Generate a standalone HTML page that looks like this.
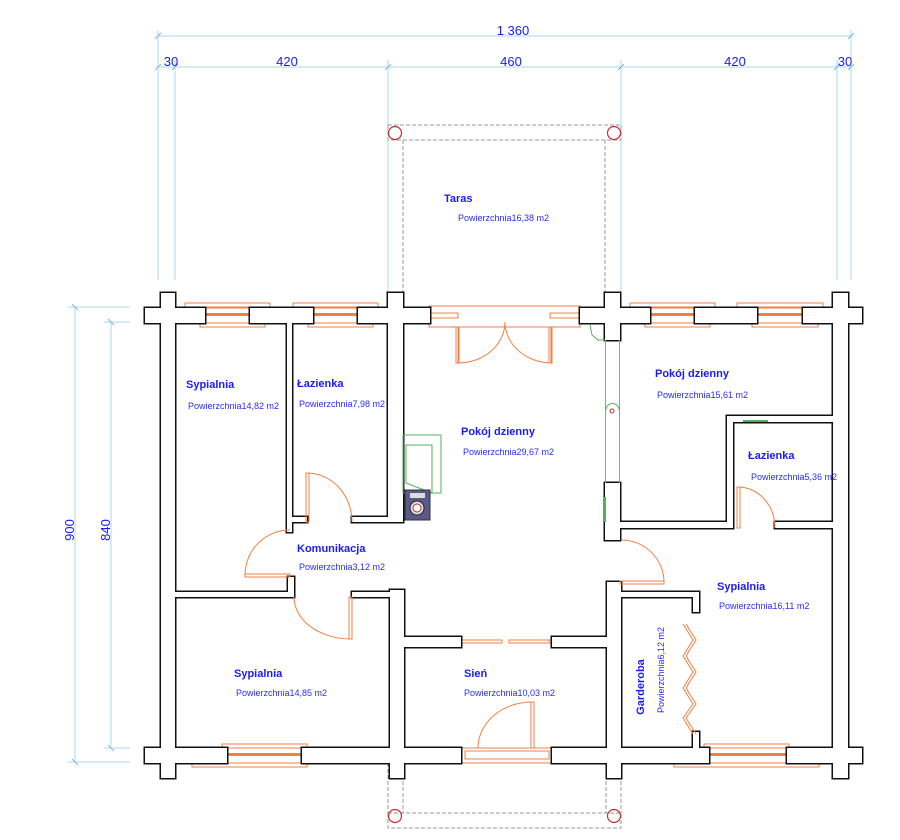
<!DOCTYPE html>
<html><head><meta charset="utf-8"><style>
html,body{margin:0;padding:0;background:#fff;}
svg{display:block;}
.n{font-family:"Liberation Sans",sans-serif;font-weight:bold;font-size:11px;fill:#1a1aff;}
.a{font-family:"Liberation Sans",sans-serif;font-size:9px;fill:#2a2aff;}
.d{font-family:"Liberation Sans",sans-serif;font-size:13px;fill:#1a1aff;}
</style></head><body>
<svg width="900" height="840" viewBox="0 0 900 840" xmlns="http://www.w3.org/2000/svg">
<rect width="900" height="840" fill="#fff"/>
<!-- dimension lines -->
<g stroke="#a8d8f4" stroke-width="1" fill="none">
<line x1="158" y1="36" x2="851" y2="36"/>
<line x1="158" y1="67" x2="851" y2="67"/>
<line x1="158" y1="30" x2="158" y2="280"/>
<line x1="175" y1="60" x2="175" y2="280"/>
<line x1="837" y1="60" x2="837" y2="280"/>
<line x1="851" y1="30" x2="851" y2="280"/>
<line x1="388" y1="60" x2="388" y2="308"/>
<line x1="621" y1="60" x2="621" y2="308"/>
<line x1="75" y1="307" x2="75" y2="762"/>
<line x1="68" y1="307" x2="130" y2="307"/>
<line x1="68" y1="762" x2="130" y2="762"/>
<line x1="111" y1="322" x2="111" y2="748"/>
<line x1="104" y1="322" x2="130" y2="322"/>
<line x1="104" y1="748" x2="130" y2="748"/>
</g>
<g stroke="#7ab8e0" stroke-width="1">
<line x1="155" y1="39" x2="161" y2="33"/><line x1="848" y1="39" x2="854" y2="33"/>
<line x1="155" y1="70" x2="161" y2="64"/><line x1="172" y1="70" x2="178" y2="64"/>
<line x1="385" y1="70" x2="391" y2="64"/><line x1="618" y1="70" x2="624" y2="64"/>
<line x1="834" y1="70" x2="840" y2="64"/><line x1="848" y1="70" x2="854" y2="64"/>
<line x1="72" y1="304" x2="78" y2="310"/><line x1="72" y1="759" x2="78" y2="765"/>
<line x1="108" y1="319" x2="114" y2="325"/><line x1="108" y1="745" x2="114" y2="751"/>
</g>
<text class="d" x="513" y="35" text-anchor="middle">1 360</text>
<text class="d" x="171" y="66" text-anchor="middle">30</text>
<text class="d" x="287" y="66" text-anchor="middle">420</text>
<text class="d" x="511" y="66" text-anchor="middle">460</text>
<text class="d" x="735" y="66" text-anchor="middle">420</text>
<text class="d" x="845" y="66" text-anchor="middle">30</text>
<text class="d" x="74" y="530" text-anchor="middle" transform="rotate(-90 74 530)">900</text>
<text class="d" x="110" y="530" text-anchor="middle" transform="rotate(-90 110 530)">840</text>

<!-- terraces -->
<g stroke="#999" stroke-width="1" fill="none" stroke-dasharray="4,2">
<rect x="388" y="125" width="233" height="15"/>
<line x1="403" y1="140" x2="403" y2="308"/>
<line x1="605" y1="140" x2="605" y2="308"/>
<rect x="388" y="813" width="233" height="15"/>
<line x1="403" y1="763" x2="403" y2="813"/>
<line x1="606" y1="763" x2="606" y2="813"/>
<line x1="388" y1="763" x2="388" y2="813"/>
<line x1="621" y1="763" x2="621" y2="813"/>
</g>
<g stroke="#c03030" stroke-width="1.2" fill="none">
<circle cx="395" cy="133" r="6.5"/><circle cx="614" cy="133" r="6.5"/>
<circle cx="395" cy="816" r="6.5"/><circle cx="614" cy="816" r="6.5"/>
</g>

<!-- windows -->
<g stroke="#f08040" stroke-width="1" fill="#fff">
<rect x="185" y="303" width="85" height="4"/><rect x="205" y="308" width="45" height="15"/><rect x="200" y="323" width="65" height="4"/>
<rect x="293" y="303" width="85" height="4"/><rect x="313" y="308" width="45" height="15"/><rect x="308" y="323" width="65" height="4"/>
<rect x="630" y="303" width="85" height="4"/><rect x="650" y="308" width="45" height="15"/><rect x="645" y="323" width="65" height="4"/>
<rect x="737" y="303" width="86" height="4"/><rect x="757" y="308" width="46" height="15"/><rect x="752" y="323" width="66" height="4"/>
<rect x="222" y="744" width="85" height="4"/><rect x="227" y="748" width="75" height="15"/><rect x="192" y="763" width="115" height="4"/>
<rect x="704" y="744" width="85" height="4"/><rect x="709" y="748" width="78" height="15"/><rect x="674" y="763" width="145" height="4"/>
<rect x="429" y="306" width="151" height="21"/>
<rect x="430" y="313" width="28" height="5"/><rect x="550" y="313" width="30" height="5"/>
<rect x="461" y="748" width="91" height="15"/>
<rect x="465" y="751" width="84" height="8"/>
<rect x="413" y="640" width="48" height="3"/><rect x="462" y="640" width="40" height="3"/>
<rect x="509" y="640" width="40" height="3"/><rect x="549" y="640" width="48" height="3"/>
</g>
<g fill="#f08040">
<rect x="205" y="313" width="45" height="3"/><rect x="313" y="313" width="45" height="3"/>
<rect x="650" y="313" width="45" height="3"/><rect x="757" y="313" width="46" height="3"/>
<rect x="227" y="753" width="75" height="3"/><rect x="709" y="753" width="78" height="3"/>
</g>

<!-- walls: stroke then fill trick -->
<g id="w" stroke="#111" stroke-width="3" fill="#111">
<rect x="145" y="308" width="60" height="15"/><rect x="161" y="293" width="14" height="485"/>
<rect x="250" y="308" width="63" height="15"/><rect x="358" y="308" width="72" height="15"/>
<rect x="388" y="293" width="15" height="30"/>
<rect x="580" y="308" width="70" height="15"/><rect x="605" y="293" width="15" height="47"/>
<rect x="695" y="308" width="62" height="15"/><rect x="803" y="308" width="59" height="15"/>
<rect x="833" y="293" width="15" height="485"/>
<rect x="145" y="748" width="82" height="15"/>
<rect x="302" y="748" width="159" height="15"/><rect x="390" y="748" width="14" height="30"/>
<rect x="552" y="748" width="157" height="15"/><rect x="607" y="748" width="14" height="30"/>
<rect x="787" y="748" width="75" height="15"/>
<rect x="287" y="322" width="5" height="210"/><rect x="292" y="517" width="15" height="5"/>
<rect x="352" y="517" width="36" height="5"/><rect x="388" y="322" width="15" height="200"/>
<rect x="288" y="577" width="6" height="20"/><rect x="175" y="592" width="119" height="5"/>
<rect x="352" y="592" width="38" height="5"/><rect x="390" y="590" width="14" height="158"/>
<rect x="404" y="637" width="57" height="10"/><rect x="552" y="637" width="55" height="10"/>
<rect x="607" y="582" width="14" height="166"/>
<rect x="621" y="592" width="78" height="5"/><rect x="693" y="592" width="6" height="20"/>
<rect x="693" y="732" width="6" height="16"/>
<rect x="605" y="483" width="15" height="57"/>
<rect x="620" y="522" width="113" height="6"/><rect x="727" y="416" width="6" height="112"/>
<rect x="727" y="416" width="106" height="6"/><rect x="775" y="522" width="58" height="6"/>
</g>
<g fill="#fff">
<rect x="145" y="308" width="60" height="15"/><rect x="161" y="293" width="14" height="485"/>
<rect x="250" y="308" width="63" height="15"/><rect x="358" y="308" width="72" height="15"/>
<rect x="388" y="293" width="15" height="30"/>
<rect x="580" y="308" width="70" height="15"/><rect x="605" y="293" width="15" height="47"/>
<rect x="695" y="308" width="62" height="15"/><rect x="803" y="308" width="59" height="15"/>
<rect x="833" y="293" width="15" height="485"/>
<rect x="145" y="748" width="82" height="15"/>
<rect x="302" y="748" width="159" height="15"/><rect x="390" y="748" width="14" height="30"/>
<rect x="552" y="748" width="157" height="15"/><rect x="607" y="748" width="14" height="30"/>
<rect x="787" y="748" width="75" height="15"/>
<rect x="287" y="322" width="5" height="210"/><rect x="292" y="517" width="15" height="5"/>
<rect x="352" y="517" width="36" height="5"/><rect x="388" y="322" width="15" height="200"/>
<rect x="288" y="577" width="6" height="20"/><rect x="175" y="592" width="119" height="5"/>
<rect x="352" y="592" width="38" height="5"/><rect x="390" y="590" width="14" height="158"/>
<rect x="404" y="637" width="57" height="10"/><rect x="552" y="637" width="55" height="10"/>
<rect x="607" y="582" width="14" height="166"/>
<rect x="621" y="592" width="78" height="5"/><rect x="693" y="592" width="6" height="20"/>
<rect x="693" y="732" width="6" height="16"/>
<rect x="605" y="483" width="15" height="57"/>
<rect x="620" y="522" width="113" height="6"/><rect x="727" y="416" width="6" height="112"/>
<rect x="727" y="416" width="106" height="6"/><rect x="775" y="522" width="58" height="6"/>
</g>

<!-- doors -->
<g stroke="#f08040" stroke-width="1" fill="none">
<path d="M458 327 V363 M458 363 A47 41 0 0 0 505 322"/>
<rect x="456" y="327" width="3" height="36"/>
<path d="M551 327 V363 M551 363 A47 41 0 0 1 505 322"/>
<rect x="549" y="327" width="3" height="36"/>
<rect x="306" y="473" width="3" height="49"/>
<path d="M307 473 A45 49 0 0 1 352 522"/>
<rect x="245" y="574" width="45" height="3"/>
<path d="M245 575 A45 45 0 0 1 290 530"/>
<rect x="349" y="597" width="3" height="42"/>
<path d="M294 597 A57 42 0 0 0 351 639"/>
<rect x="620" y="581" width="44" height="3"/>
<path d="M664 582 A43 42 0 0 0 621 540"/>
<rect x="737" y="487" width="3" height="41"/>
<path d="M738 487 A37 41 0 0 1 775 528"/>
<rect x="531" y="702" width="3" height="46"/>
<path d="M532 702 A54 46 0 0 0 478 748"/>
<line x1="605.5" y1="340" x2="605.5" y2="483"/>
<line x1="619.5" y1="340" x2="619.5" y2="483"/>
<path d="M683 624 L693 640 L683 656 L693 672 L683 688 L693 704 L683 718 L693 734"/>
<path d="M686 624 L696 640 L686 656 L696 672 L686 688 L696 704 L686 718 L696 734"/>
</g>
<g stroke="#50b060" stroke-width="1" fill="none">
<rect x="403" y="435" width="38" height="58"/>
<path d="M406 445 H432 V493 L406 483 Z"/>
<line x1="743" y1="421" x2="768" y2="421" stroke-width="2"/>
<line x1="605" y1="497" x2="605" y2="522" stroke-width="2"/>
<path d="M590 325 L592 335 L598 340 L605 340"/>
<path d="M606 410 A6 6 0 0 1 619 410"/>
</g>
<circle cx="612" cy="411" r="2" fill="none" stroke="#c03030"/>
<rect x="405" y="490" width="25" height="30" fill="#5a5a8a" stroke="#333"/>
<rect x="410" y="493" width="15" height="5" fill="#ddd"/>
<circle cx="417" cy="508" r="7" fill="#ddd" stroke="#222"/>
<circle cx="417" cy="508" r="4" fill="#fff" stroke="#c03030"/>

<!-- labels -->
<text class="n" x="444" y="202">Taras</text><text class="a" x="458" y="221">Powierzchnia16,38 m2</text>
<text class="n" x="186" y="388">Sypialnia</text><text class="a" x="188" y="409">Powierzchnia14,82 m2</text>
<text class="n" x="297" y="387">Łazienka</text><text class="a" x="299" y="407">Powierzchnia7,98 m2</text>
<text class="n" x="461" y="435">Pokój dzienny</text><text class="a" x="463" y="455">Powierzchnia29,67 m2</text>
<text class="n" x="655" y="377">Pokój dzienny</text><text class="a" x="657" y="398">Powierzchnia15,61 m2</text>
<text class="n" x="748" y="459">Łazienka</text><text class="a" x="751" y="480">Powierzchnia5,36 m2</text>
<text class="n" x="297" y="552">Komunikacja</text><text class="a" x="299" y="570">Powierzchnia3,12 m2</text>
<text class="n" x="717" y="590">Sypialnia</text><text class="a" x="719" y="609">Powierzchnia16,11 m2</text>
<text class="n" x="234" y="677">Sypialnia</text><text class="a" x="236" y="696">Powierzchnia14,85 m2</text>
<text class="n" x="464" y="677">Sień</text><text class="a" x="464" y="696">Powierzchnia10,03 m2</text>
<text class="n" x="644" y="687" text-anchor="middle" transform="rotate(-90 644 687)">Garderoba</text>
<text class="a" x="664" y="670" text-anchor="middle" transform="rotate(-90 664 670)">Powierzchnia6,12 m2</text>
</svg>
</body></html>
